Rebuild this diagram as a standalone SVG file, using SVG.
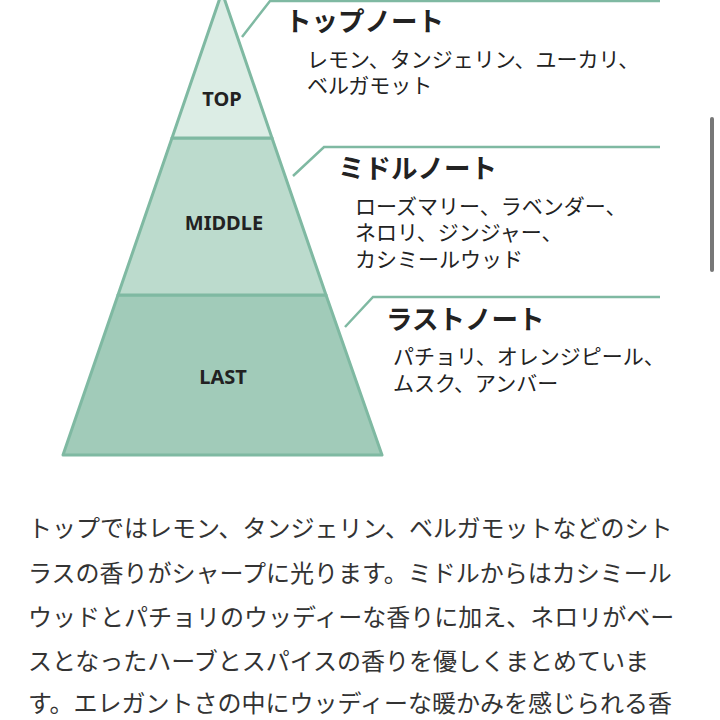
<svg xmlns="http://www.w3.org/2000/svg" width="720" height="720" viewBox="0 0 720 720">
<style>
.t{font-family:"Noto Sans CJK JP",sans-serif;fill:#222}
.h{font-size:26.5px;font-weight:bold}
.b{font-size:21px}
.lbl{font-family:"Noto Sans","Liberation Sans",sans-serif;font-weight:bold;font-size:20px;fill:#222;text-anchor:middle}
.p{font-family:"Noto Sans CJK JP",sans-serif;font-size:24px;fill:#333}
.seg{stroke:#7fb9a2;stroke-width:3;stroke-linejoin:round}
.lead{stroke:#7fb9a2;stroke-width:2.5;fill:none}
</style>
<rect width="720" height="720" fill="#fff"/>
<g id="last"><polygon class="seg" points="118,295 326,295 382,455 63,455" fill="#a1cbb9"/><text class="lbl" x="223" y="384">LAST</text></g>
<g id="middle"><polygon class="seg" points="172,138 272,138 326,295 118,295" fill="#bcdbcd"/><text class="lbl" x="224" y="230">MIDDLE</text></g>
<g id="top"><polygon class="seg" points="222,-8 272,138 172,138" fill="#dcede5"/><text class="lbl" x="222" y="106">TOP</text></g>
<g id="connectors">
<polyline class="lead" points="242,37 270,1 660,1"/>
<polyline class="lead" points="293,176 324,147 660,147"/>
<polyline class="lead" points="345,327 373,297 660,297"/>
</g>
<g id="top-note"><text class="t h" x="285" y="31">トップノート</text><text class="t b" x="307" y="67">レモン、タンジェリン、ユーカリ、</text><text class="t b" x="307" y="93">ベルガモット</text></g>
<g id="middle-note"><text class="t h" x="338" y="178">ミドルノート</text><text class="t b" x="355" y="214">ローズマリー、ラベンダー、</text><text class="t b" x="355" y="240">ネロリ、ジンジャー、</text><text class="t b" x="355" y="267">カシミールウッド</text></g>
<g id="last-note"><text class="t h" x="386" y="329">ラストノート</text><text class="t b" x="393" y="364">パチョリ、オレンジピール、</text><text class="t b" x="393" y="391">ムスク、アンバー</text></g>
<rect x="710" y="117" width="4" height="155" rx="2" fill="#777"/>
<g id="para">
<text class="p" x="28" y="537">トップではレモン、タンジェリン、ベルガモットなどのシト</text>
<text class="p" x="28" y="582">ラスの香りがシャープに光ります。ミドルからはカシミール</text>
<text class="p" x="28" y="626">ウッドとパチョリのウッディーな香りに加え、ネロリがベー</text>
<text class="p" x="28" y="670">スとなったハーブとスパイスの香りを優しくまとめていま</text>
<text class="p" x="28" y="712">す。エレガントさの中にウッディーな暖かみを感じられる香</text>
</g>
</svg>
